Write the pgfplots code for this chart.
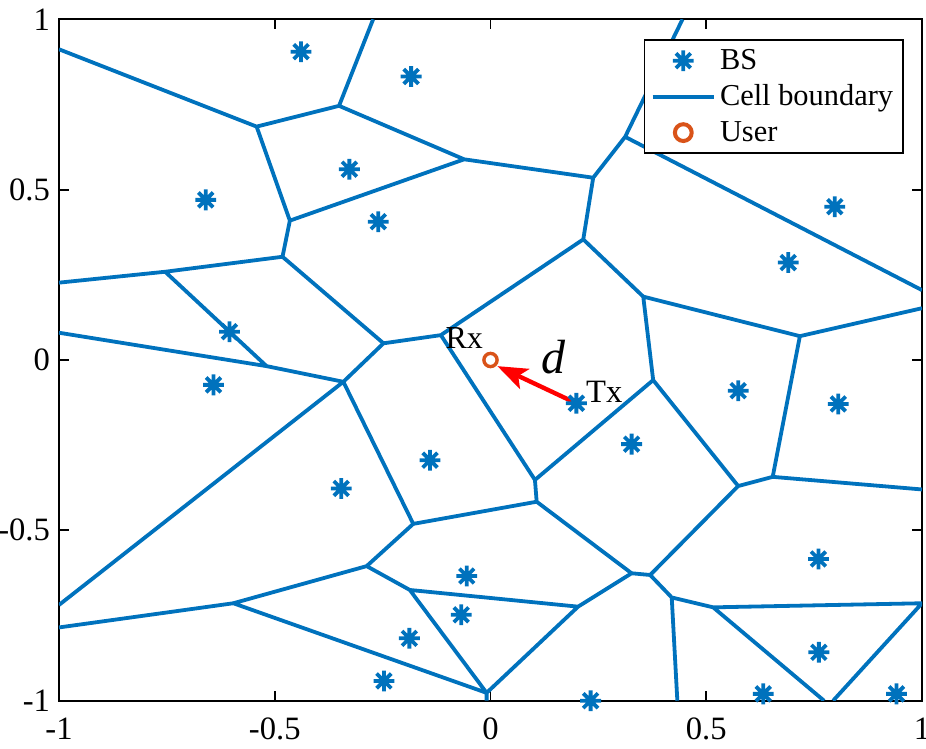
\documentclass[border=0pt]{standalone}
\usepackage{fontspec}
\setmainfont{Liberation Serif}
\usepackage{pgfplots}
\pgfplotsset{compat=1.18}
\usetikzlibrary{arrows.meta}
\definecolor{mblue}{RGB}{0,114,189}
\definecolor{morange}{RGB}{217,83,25}
\pgfdeclareplotmark{mstar}{%
  \pgfpathmoveto{\pgfqpoint{-\pgfplotmarksize}{0pt}}\pgfpathlineto{\pgfqpoint{\pgfplotmarksize}{0pt}}%
  \pgfpathmoveto{\pgfqpoint{0pt}{-\pgfplotmarksize}}\pgfpathlineto{\pgfqpoint{0pt}{\pgfplotmarksize}}%
  \pgfpathmoveto{\pgfqpoint{-0.7071\pgfplotmarksize}{-0.7071\pgfplotmarksize}}\pgfpathlineto{\pgfqpoint{0.7071\pgfplotmarksize}{0.7071\pgfplotmarksize}}%
  \pgfpathmoveto{\pgfqpoint{-0.7071\pgfplotmarksize}{0.7071\pgfplotmarksize}}\pgfpathlineto{\pgfqpoint{0.7071\pgfplotmarksize}{-0.7071\pgfplotmarksize}}%
  \pgfusepathqstroke}
\begin{document}
\begin{tikzpicture}
\begin{axis}[
  name=ax,
  scale only axis, width=431.5pt, height=340.7pt,
  xmin=-1, xmax=1, ymin=-1, ymax=1,
  xtick={-1,-0.5,0,0.5,1}, xticklabels={-1,-0.5,0,0.5,1},
  ytick={-1,-0.5,0,0.5,1}, yticklabels={-1,-0.5,0,0.5,1},
  tick align=inside, major tick length=5pt,
  axis line style={line width=0.9pt, black},
  tick style={line width=0.9pt, black},
  tick label style={font=\fontsize{16.3}{19}\selectfont},
  xticklabel style={yshift=-5pt},
  yticklabel style={xshift=-1pt},
  unbounded coords=jump,
  legend style={at={(axis description cs:0.979,0.9706)}, anchor=north east,
    font=\fontsize{15.2}{18}\selectfont, draw=black, line width=0.8pt,
    inner xsep=3pt, inner ysep=2.5pt, row sep=2.2pt, cells={anchor=west}},
  legend image code/.code={\draw[mark repeat=2,mark phase=2,#1] plot coordinates {(0pt,0pt) (15.4pt,0pt) (30.8pt,0pt)};},
]
% base stations
\addplot[only marks, mark=mstar, mark size=5.2pt, color=mblue, line width=1.9pt] coordinates {
(-0.439,0.905) (-0.184,0.832) (-0.327,0.560) (-0.660,0.470) (-0.260,0.406)
(0.798,0.450) (0.690,0.286) (-0.605,0.083) (-0.642,-0.073) (0.199,-0.127)
(0.574,-0.090) (0.806,-0.129) (0.327,-0.247) (-0.140,-0.294) (-0.346,-0.377)
(0.760,-0.584) (-0.055,-0.634) (-0.068,-0.748) (-0.188,-0.817) (0.761,-0.858)
(-0.247,-0.942) (0.232,-1.000) (0.632,-0.980) (0.941,-0.980)
};
\addlegendentry{BS}
% cell boundaries
\addplot[color=mblue, line width=1.9pt, line join=round] coordinates {
(-1,0.912) (-0.542,0.685) (-0.351,0.746) (-0.272,1) (nan,nan)
(-0.542,0.685) (-0.465,0.409) (-0.061,0.589) (-0.351,0.746) (nan,nan)
(-0.061,0.589) (0.238,0.535) (0.312,0.655) (0.445,1) (nan,nan)
(0.312,0.655) (1,0.205) (nan,nan)
(0.238,0.535) (0.215,0.354) (0.354,0.186) (0.717,0.070) (1,0.152) (nan,nan)
(0.354,0.186) (0.377,-0.059) (0.574,-0.370) (0.654,-0.343) (0.717,0.070) (nan,nan)
(0.654,-0.343) (1,-0.380) (nan,nan)
(-0.465,0.409) (-0.482,0.303) (-0.754,0.259) (-1,0.227) (nan,nan)
(-0.754,0.259) (-0.519,-0.018) (nan,nan)
(-1,0.080) (-0.519,-0.018) (-0.341,-0.064) (-0.248,0.049) (-0.482,0.303) (nan,nan)
(-0.248,0.049) (-0.115,0.073) (0.215,0.354) (nan,nan)
(-0.115,0.073) (0.103,-0.352) (0.377,-0.059) (nan,nan)
(0.103,-0.352) (0.107,-0.416) (-0.179,-0.481) (-0.341,-0.064) (nan,nan)
(-0.341,-0.064) (-1,-0.719) (nan,nan)
(-0.179,-0.481) (-0.287,-0.605) (-0.596,-0.714) (-1,-0.785) (nan,nan)
(-0.287,-0.605) (-0.187,-0.675) (0.203,-0.724) (0.327,-0.626) (0.107,-0.416) (nan,nan)
(-0.187,-0.675) (-0.009,-0.977) (0.203,-0.724) (nan,nan)
(-0.009,-0.977) (-0.009,-1) (nan,nan)
(-0.596,-0.714) (-0.009,-0.977) (nan,nan)
(0.327,-0.626) (0.370,-0.631) (0.574,-0.370) (nan,nan)
(0.370,-0.631) (0.420,-0.697) (0.433,-1) (nan,nan)
(0.420,-0.697) (0.516,-0.726) (1,-0.714) (0.794,-1) (nan,nan)
(0.516,-0.726) (0.773,-1)
};
\addlegendentry{Cell boundary}
% distance arrow
\addplot[color=red, line width=2.2pt, -{Stealth[length=15pt, width=11pt, inset=3.5pt]}, forget plot] coordinates {(0.199,-0.127) (0.016,-0.018)};
% user
\addplot[only marks, mark=o, mark size=3.3pt, color=morange, line width=1.7pt,
  legend image code/.code={\draw[morange, mark=o, mark size=4.2pt, line width=2pt] plot coordinates {(15.4pt,0pt)};}] coordinates {(0,0)};
\addlegendentry{User}
\node[anchor=base, font=\fontsize{16}{18}\selectfont] at (axis cs:-0.061,0.034) {Rx};
\node[anchor=base, font=\fontsize{16.3}{19}\selectfont] at (axis cs:0.2635,-0.125) {Tx};
\node[anchor=base, font=\fontsize{24}{28}\selectfont\itshape] at (axis cs:0.1456,-0.039) {d};
\end{axis}
\pgfresetboundingbox
\path[use as bounding box] ([xshift=-29.5pt,yshift=-24.15pt]ax.south west) rectangle ([xshift=2pt,yshift=9.65pt]ax.north east);
\end{tikzpicture}
\end{document}
